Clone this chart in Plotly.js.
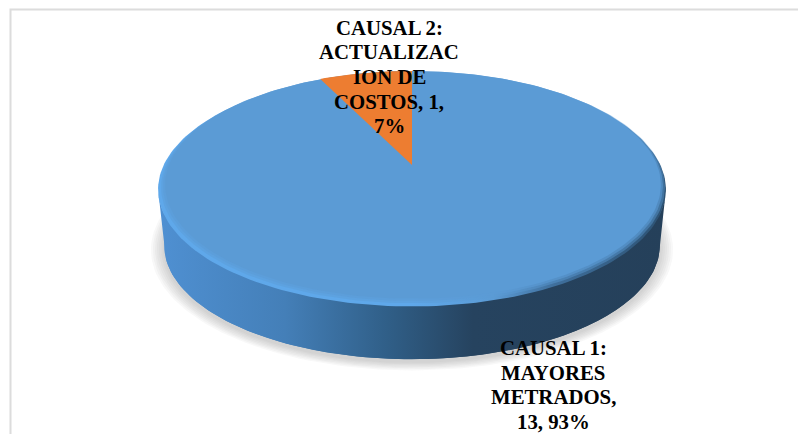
<!DOCTYPE html>
<html>
<head>
<meta charset="utf-8">
<script src="https://cdn.plot.ly/plotly-3.0.1.min.js"></script>
<style>html,body{margin:0;padding:0;background:#fff}#chart{width:798px;height:434px}</style>
</head>
<body>
<div id="chart"></div>
<script>
// Causes and their counts
const categories = ['CAUSAL 1: MAYORES METRADOS', 'CAUSAL 2: ACTUALIZACION DE COSTOS'];
const values = [13, 1];
const sliceColors = ['#5b9bd5', '#ed7d31'];
// Label text, wrapped the way each label sets its lines
const labelLines = [
  ['CAUSAL 1:', 'MAYORES', 'METRADOS,'],
  ['CAUSAL 2:', 'ACTUALIZAC', 'ION DE', 'COSTOS, 1,']
];
const labelCentersX = [553, 389];
const labelFirstLineY = [347.5, 27];
const labelLineStep = 24.7;

// Tilted disc: a unit circle projected with perspective onto the page
const disc = {cx: 412, cy: 165, rx: 249, ry: 112.5, tilt: 0.1966, depth: 58, baseGrow: -6};
function project(u, v, drop, grow) {
  const d = 1 + disc.tilt * v;
  const g = grow || 0;
  return [disc.cx + (disc.rx + g) * u / d, disc.cy - (disc.ry + g * 0.5) * v / d + (drop || 0)];
}
function circle(drop, grow, shiftX, shiftY) {
  const xs = [], ys = [];
  for (let i = 0; i <= 240; i++) {
    const t = i / 240 * 2 * Math.PI;
    const p = project(Math.sin(t), Math.cos(t), drop, grow);
    xs.push(p[0] + (shiftX || 0));
    ys.push(p[1] + (shiftY || 0));
  }
  return {x: xs, y: ys};
}
function wedge(fromShare, toShare) {
  const xs = [disc.cx], ys = [disc.cy];
  const n = Math.max(2, Math.ceil((toShare - fromShare) * 240));
  for (let i = 0; i <= n; i++) {
    const t = (fromShare + (toShare - fromShare) * i / n) * 2 * Math.PI;
    const p = project(Math.sin(t), Math.cos(t));
    xs.push(p[0]);
    ys.push(p[1]);
  }
  xs.push(disc.cx);
  ys.push(disc.cy);
  return {x: xs, y: ys};
}
function fillTrace(shape, color) {
  return {type: 'scatter', mode: 'lines', x: shape.x, y: shape.y, fill: 'toself',
    fillcolor: color, line: {width: 0, color: color}, hoverinfo: 'skip', showlegend: false};
}
function gradientTrace(shape, stops) {
  return {type: 'scatter', mode: 'lines', x: shape.x, y: shape.y, fill: 'toself',
    fillgradient: {type: 'horizontal', start: 158, stop: 666, colorscale: stops},
    line: {width: 0}, hoverinfo: 'skip', showlegend: false};
}

const traces = [];
const wallStops = [[0, '#4f90d2'], [0.25, '#447fb8'], [0.45, '#305f88'], [0.62, '#26435f'], [1, '#25405a']];
// Soft drop shadow under the disc
for (let g = 13; g >= 1; g -= 2) {
  traces.push(fillTrace(circle(disc.depth + 3, disc.baseGrow + g), 'rgba(120,120,120,0.05)'));
}
// Side wall: base outline plus the band joining its widest points to the top face
traces.push(gradientTrace(circle(disc.depth, disc.baseGrow), wallStops));
const upperEdge = circle(0);
const lowerEdge = circle(disc.depth, disc.baseGrow);
traces.push(gradientTrace({
  x: upperEdge.x.slice(68, 173).concat(lowerEdge.x.slice(68, 173).reverse()),
  y: upperEdge.y.slice(68, 173).concat(lowerEdge.y.slice(68, 173).reverse())
}, wallStops));
// Rounded rim catching the light on the near left edge
traces.push(gradientTrace(circle(0, 0, 0, 1.5), [
  [0, '#5fa8ea'], [0.5, '#5fa8ea'], [0.66, '#5b9bd5'], [0.78, '#3f6f9c'], [1, '#2d5273']
]));
// Top face, with a feathered edge over the rim
traces.push(fillTrace(circle(0, -2, 1, -0.5), 'rgba(91,155,213,0.45)'));
traces.push(fillTrace(circle(0, -4, 1, -1.5), 'rgba(91,155,213,0.6)'));
traces.push(fillTrace(circle(0, -6, 1, -2.5), sliceColors[0]));

// The smaller slice ends at twelve o'clock
const total = values.reduce((a, b) => a + b, 0);
const share2 = values[1] / total;
traces.push(fillTrace(wedge(1 - share2, 1), sliceColors[1]));

// Data labels state name, count and percentage, one annotation per line
function labelRows(i) {
  const pct = Math.round(values[i] / total * 100) + '%';
  return i === 0
    ? labelLines[0].concat([values[0] + ', ' + pct])
    : labelLines[1].concat([pct]);
}
const annotations = [];
categories.forEach((c, i) => {
  labelRows(i).forEach((row, k) => {
    annotations.push({
      xref: 'x', yref: 'y', x: labelCentersX[i], y: labelFirstLineY[i] + k * labelLineStep,
      xanchor: 'center', yanchor: 'middle', text: row, showarrow: false, align: 'center',
      font: {family: '"Liberation Serif", "Times New Roman", serif', size: 20.8, weight: 'bold', color: '#000000'},
      borderpad: 0, borderwidth: 0
    });
  });
});

// Chart area border: only the top and left edges fall inside the page
const frame = {type: 'path', xref: 'x', yref: 'y', path: 'M 10.5 440 L 10.5 9.5 L 800 9.5',
  line: {color: '#dcdcdc', width: 2}, layer: 'below'};

Plotly.newPlot('chart', traces, {
  width: 798, height: 434,
  margin: {l: 0, r: 0, t: 0, b: 0},
  paper_bgcolor: '#ffffff', plot_bgcolor: '#ffffff',
  showlegend: false,
  xaxis: {range: [0, 798], visible: false, fixedrange: true},
  yaxis: {range: [434, 0], visible: false, fixedrange: true},
  shapes: [frame],
  annotations: annotations
}, {displayModeBar: false, staticPlot: true});
</script>
</body>
</html>
